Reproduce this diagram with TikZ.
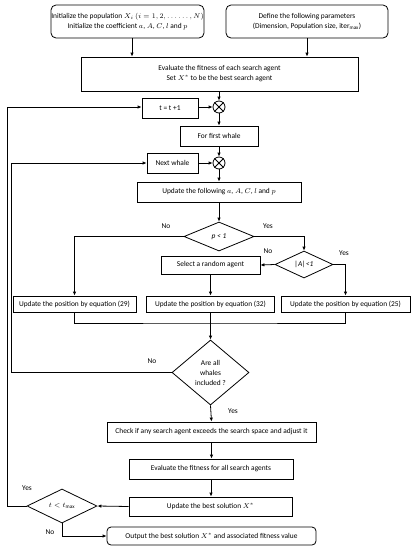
\documentclass[tikz,border=0pt]{standalone}
\usepackage{fontspec}
\setmainfont{Carlito}
\usetikzlibrary{shapes.geometric,arrows.meta,calc}
\begin{document}
\begin{tikzpicture}[x=1pt,y=-1pt,
  every node/.style={font=\fontsize{7.4}{10}\selectfont},
  box/.style={draw,line width=0.8pt,inner sep=0pt,align=center},
  rbox/.style={box,rounded corners=5pt},
  dia/.style={draw,line width=0.8pt,shape=diamond,inner sep=0pt,align=center},
  xcirc/.style={draw,line width=0.8pt,circle,minimum size=12pt,inner sep=0pt},
  arr/.style={line width=0.8pt,-{Latex[length=4pt,width=3.5pt]}},
  ln/.style={line width=0.8pt},
  lbl/.style={inner sep=0pt}]
\useasboundingbox (0,0) rectangle (415,550);
% nodes
\node[rbox,minimum width=153pt,minimum height=33pt] (b1) at (127.5,21.5) {Initialize the population $X_i\,(i = 1,2,\ldots\ldots,N)$\\Initialize the coefficient $a$, $A$, $C$, $l$ and $p$};
\node[rbox,minimum width=162pt,minimum height=33pt] (b2) at (307,21.5) {Define the following parameters\\(Dimension, Population size, iter\textsubscript{max})};
\node[box,minimum width=277pt,minimum height=34pt] (b3) at (219.5,74) {Evaluate the fitness of each search agent\\Set $X^*$ to be the best search agent};
\node[xcirc] (c1) at (219,107) {};
\node[box,minimum width=56pt,minimum height=20pt] (tt) at (170,108) {t = t +1};
\node[box,minimum width=78pt,minimum height=20pt] (first) at (219,136) {For first whale};
\node[xcirc] (c2) at (219,163) {};
\node[box,minimum width=51pt,minimum height=20pt] (next) at (172.5,163) {Next whale};
\node[box,minimum width=164pt,minimum height=20pt] (upd) at (219,192) {Update the following $a$, $A$, $C$, $l$ and $p$};
\node[dia,minimum width=70pt,minimum height=29pt] (p1) at (219,236.5) {\textit{p < 1}};
\node[dia,minimum width=58pt,minimum height=27pt] (a1) at (304,264.5) {\textit{|A|<1}};
\node[box,minimum width=99pt,minimum height=18pt] (sel) at (210.5,265) {Select a random agent};
\node[box,minimum width=123pt,minimum height=16pt] (b29) at (74.5,304) {Update the position by equation (29)};
\node[box,minimum width=128pt,minimum height=16pt] (b32) at (210.5,304) {Update the position by equation (32)};
\node[box,minimum width=129pt,minimum height=16pt] (b25) at (345.5,304) {Update the position by equation (25)};
\node[dia,minimum width=77pt,minimum height=65pt] (wh) at (210.5,372.5) {Are all\\whales\\included ?};
\node[box,minimum width=209pt,minimum height=20pt] (chk) at (211.5,432) {Check if any search agent exceeds the search space and adjust it};
\node[box,minimum width=164pt,minimum height=20pt] (ev) at (211,469) {Evaluate the fitness for all search agents};
\node[box,minimum width=163pt,minimum height=19pt] (best) at (210.5,506.5) {Update the best solution $X^*$};
\node[dia,minimum width=70pt,minimum height=34pt] (tm) at (62,506) {$t < t_{\max}$};
\node[rbox,minimum width=209pt,minimum height=18pt,rounded corners=4pt] (out) at (211.5,536) {Output the best solution $X^*$ and associated fitness value};
% crosses in circles
\foreach \c in {c1,c2}{
  \draw[ln] (\c.45) -- (\c.225);
  \draw[ln] (\c.135) -- (\c.315);
}
\coordinate (L1) at (7,0);
\coordinate (L2) at (11,0);
\coordinate (J) at (210.5,323);
% labels
\node[lbl] (l1) at (166,226) {No};
\node[lbl] (l2) at (268,226) {Yes};
\node[lbl] (l3) at (268,251) {No};
\node[lbl] (l4) at (344,253) {Yes};
\node[lbl] (l5) at (152,361) {No};
\node[lbl] (l6) at (233,411) {Yes};
\node[lbl] (l7) at (27,488) {Yes};
\node[lbl] (l8) at (50,532) {No};
% connectors
\draw[arr] ([xshift=4.5pt]b1.south) -- ([xshift=4.5pt]b1.south |- b3.north);
\draw[arr] (b2.south) -- (b2.south |- b3.north);
\draw[arr] (b3.south -| c1) -- (c1.north);
\draw[arr] (tt.east |- c1) -- (c1.west);
\draw[arr] (c1.south) -- (first.north);
\draw[arr] (first.south) -- (c2.north);
\draw[arr] (next.east) -- (c2.west);
\draw[arr] (c2.south) -- (upd.north);
\draw[arr] (upd.south) -- (p1.north);
\draw[arr] (p1.west) -| (b29.north);
\draw[arr] (p1.east) -| (a1.north);
\draw[arr] (a1.west) -- (sel.east);
\draw[arr] (a1.east) -| (b25.north);
\draw[arr] (sel.south) -- (b32.north);
\draw[ln] (b29.south) |- (J) -| (b25.south);
\draw[arr] (b32.south) -- (wh.north);
\draw[arr] (wh.west) -- (wh.west -| L2) |- (next.west);
\draw[arr] (wh.south) -- (chk.north);
\draw[arr] (chk.south) -- (chk.south |- ev.north);
\draw[arr] (ev.south) -- (ev.south |- best.north);
\draw[arr] (best.west) -- (tm.east);
\draw[arr] (tm.west) -- (tm.west -| L1) |- (tt.west |- c1);
\draw[arr] (tm.south) |- (out.west);
\end{tikzpicture}
\end{document}
